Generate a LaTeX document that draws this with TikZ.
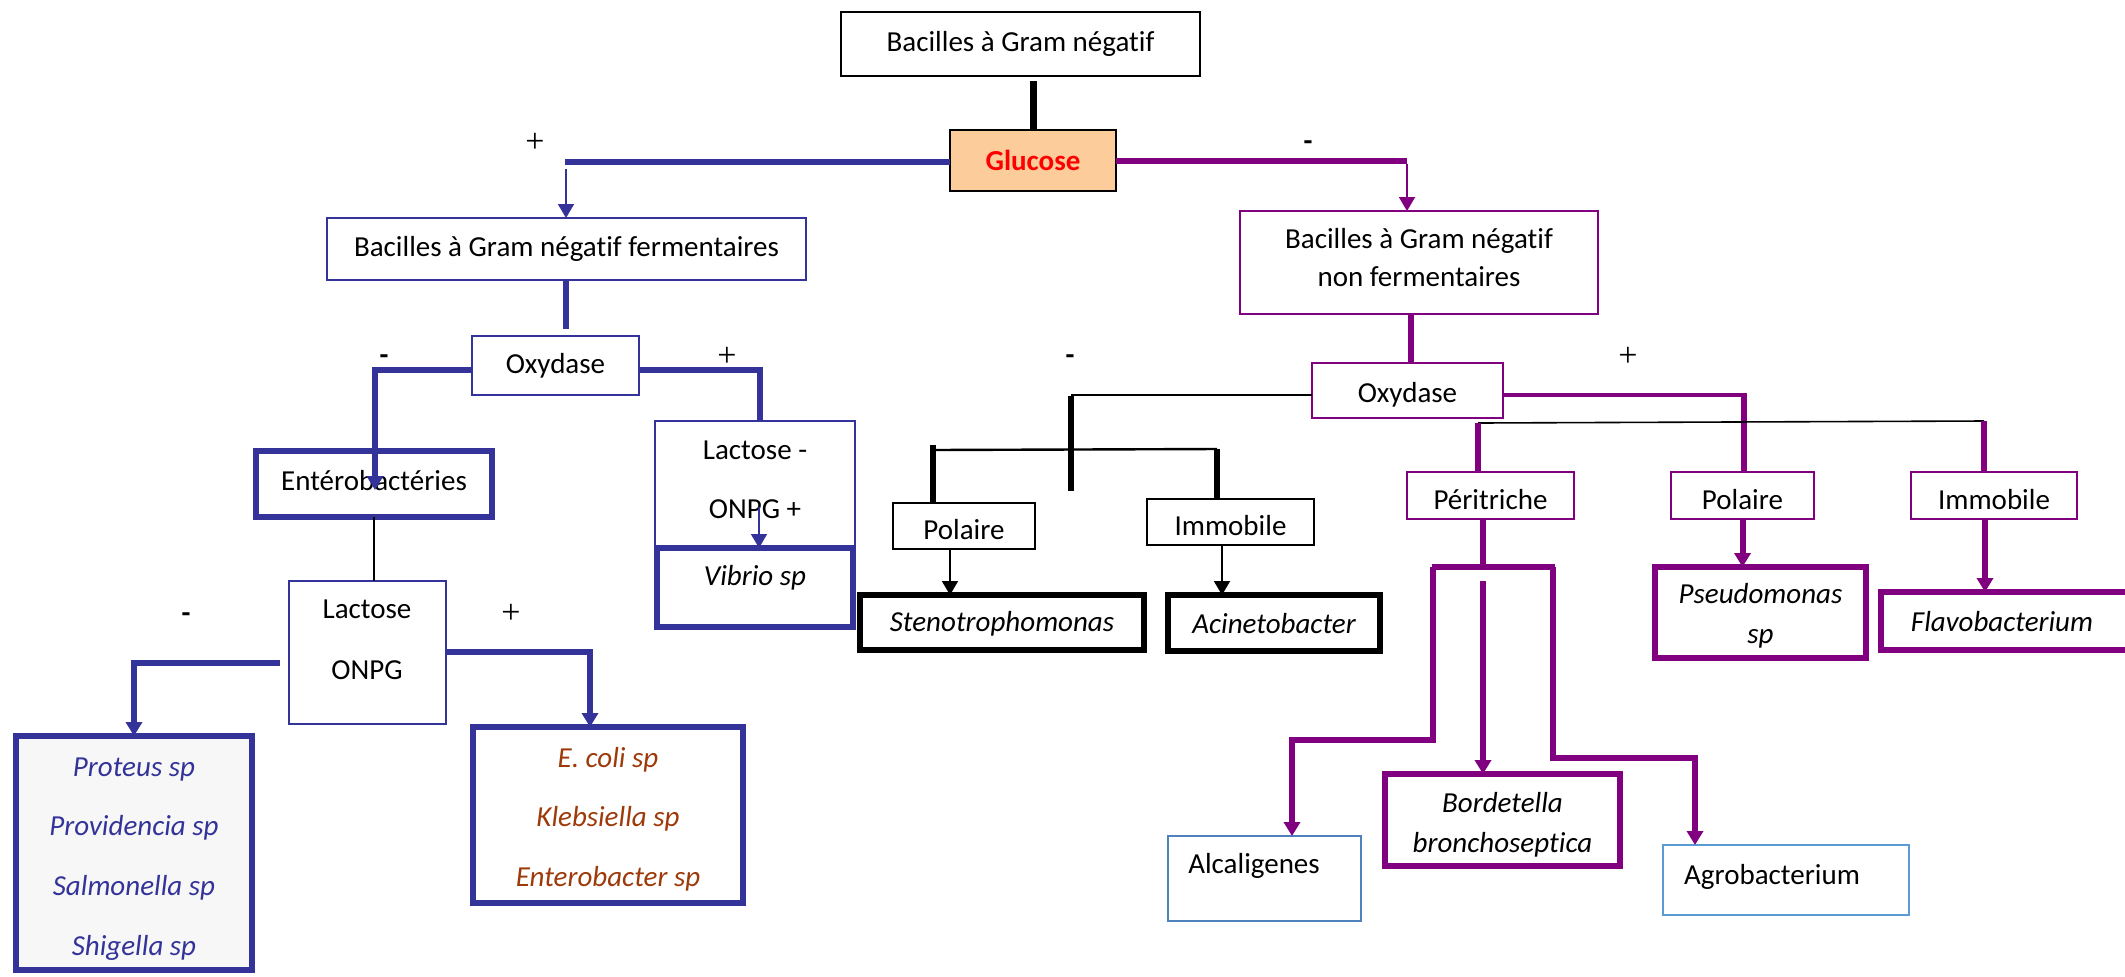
\documentclass[tikz,border=0pt]{standalone}
\usepackage{fontspec}
\setmainfont{Carlito}[Ligatures=NoCommon]
\newfontfamily\plusfont{Liberation Serif}
\usetikzlibrary{arrows.meta}

\definecolor{gblue}{RGB}{51,51,153}
\definecolor{gpurple}{RGB}{128,0,128}
\definecolor{peach}{RGB}{252,204,154}
\definecolor{rust}{RGB}{158,58,10}
\definecolor{skyA}{RGB}{79,129,189}
\definecolor{skyB}{RGB}{91,155,213}
\definecolor{paleg}{RGB}{247,247,247}

% box from corner (x1,y1) to corner (x2,y2), in pixel units
\newcommand\flowbox[7]{%
  \node[#2, minimum width={(#5-#3)*0.5pt}, minimum height={(#6-#4)*0.5pt}]
    (#1) at ({(#3+#5)/2},{(#4+#6)/2}) {#7};}

\begin{document}
\begin{tikzpicture}[x=0.5pt,y=-0.5pt,
  every node/.style={font=\fontsize{14.5}{17}\selectfont, inner sep=0pt, outer sep=0pt, align=center},
  box/.style={draw, line width=1pt},
  heavy/.style={draw, line width=3pt},
  sink/.style={text height=#1, text depth=0pt},
  link/.style={line width=3pt},
  tip/.style={-{Triangle[width=8pt,length=7pt]}},
  thinlink/.style={line width=0.9pt},
  it/.style={font=\fontsize{14.5}{#1}\selectfont\itshape},
  it/.default=17,
  plus/.style={font=\fontsize{17}{20}\selectfont\plusfont},
  minus/.style={font=\fontsize{14.5}{17}\selectfont\bfseries}]

\useasboundingbox (0,0) rectangle (2125,976);

% ---------- root ----------
\flowbox{top}{box, line width=1.2pt}{841}{12}{1200}{76}{Bacilles à Gram négatif}
\flowbox{glucose}{box, fill=peach, text=red, font=\fontsize{14.5}{17}\selectfont\bfseries}{950}{130}{1116}{191}{Glucose}

% ---------- fermenting branch ----------
\flowbox{ferm}{box, draw=gblue}{327}{218}{806}{280}{Bacilles à Gram négatif fermentaires}
\flowbox{oxL}{box, draw=gblue}{472}{336}{639}{395}{Oxydase}
\flowbox{ent}{heavy, draw=gblue, sink=6.4pt}{256}{451}{492}{517}{Entérobactéries}
\flowbox{lacO}{box, draw=gblue}{289}{581}{446}{724}{}
\node[font=\fontsize{14.5}{30.5}\selectfont] (lacOT) at (367,640) {Lactose\\ONPG};
\flowbox{lacm}{box, draw=gblue}{655}{421}{855}{547}{}
\node[font=\fontsize{14.5}{29.5}\selectfont] (lacmT) at (755,480) {Lactose -\\ONPG +};
\flowbox{vibrio}{heavy, draw=gblue}{657}{548}{853}{627}{}
\node[it] (vibT) at (755,578) {Vibrio sp};
\flowbox{proteus}{heavy, draw=gblue, fill=paleg}{16}{736}{252}{970}{}
\node[text=gblue, it=29.85] (proteusT) at (134,859) {Proteus sp\\Providencia sp\\Salmonella sp\\Shigella sp};
\flowbox{ecoli}{heavy, draw=gblue}{473}{727}{743}{903}{}
\node[text=rust, it=29.75] (ecoliT) at (608,819) {E. coli sp\\Klebsiella sp\\Enterobacter sp};

% ---------- non-fermenting branch ----------
\flowbox{nonferm}{box, draw=gpurple}{1240}{211}{1598}{314}{}
\node[font=\fontsize{14.5}{19}\selectfont] (nonfermT) at (1419,257.5) {Bacilles à Gram négatif\\non fermentaires};
\flowbox{oxR}{box, draw=gpurple, sink=11.6pt}{1312}{363}{1503}{418}{Oxydase}
\flowbox{polB}{box, sink=13pt}{893}{503}{1035}{549}{Polaire}
\flowbox{immB}{box, sink=13.6pt}{1147}{499}{1314}{545}{Immobile}
\flowbox{steno}{heavy, it, sink=9.3pt}{860}{595}{1144}{650}{Stenotrophomonas}
\flowbox{acin}{heavy, it, sink=10pt}{1168}{595}{1380}{651}{Acinetobacter}
\flowbox{perit}{box, draw=gpurple, sink=13.8pt}{1407}{472}{1574}{519}{Péritriche}
\flowbox{polP}{box, draw=gpurple, sink=14pt}{1671}{472}{1814}{519}{Polaire}
\flowbox{immP}{box, draw=gpurple, sink=14pt}{1911}{472}{2077}{519}{Immobile}
\flowbox{pseudo}{heavy, draw=gpurple}{1655}{567}{1866}{658}{}
\node[it=20] (pseudoT) at (1760.5,615.5) {Pseudomonas\\sp};
\flowbox{flavo}{heavy, draw=gpurple}{1881}{592}{2140}{650}{}
\node[it] (flavoT) at (2002,622) {Flavobacterium};
\flowbox{alcal}{box, draw=skyA}{1168}{836}{1361}{921}{}
\node (alcalT) at (1254,866) {Alcaligenes};
\flowbox{bordet}{heavy, draw=gpurple}{1385}{774}{1620}{866}{}
\node[it=20] (bordetT) at (1502.5,825) {Bordetella\\bronchoseptica};
\flowbox{agro}{box, draw=skyB}{1663}{845}{1909}{915}{}
\node (agroT) at (1772,877) {Agrobacterium};

% ---------- signs ----------
\node[plus]  (sgA) at (535,143) {+};
\node[minus] (sgB) at (1308,146) {-};
\node[minus] (sgC) at (384,360) {-};
\node[plus]  (sgD) at (727,357) {+};
\node[minus] (sgE) at (186,618) {-};
\node[plus]  (sgF) at (511,614) {+};
\node[minus] (sgG) at (1070,360) {-};
\node[plus]  (sgH) at (1628,357) {+};

% ---------- root connectors ----------
\coordinate (topdrop) at (1033,81);
\draw[line width=3.5pt] (topdrop) -- (glucose.north);

\coordinate (gL) at (565,162);
\coordinate (gLdrop) at (566,169);
\draw[gblue, line width=3.2pt] (glucose.west |- gL) -- (gL);
\draw[gblue, thinlink, tip] (gLdrop) -- (gLdrop |- ferm.north);

\coordinate (gR) at (1407,161);
\coordinate (gRdrop) at (1407,164);
\draw[gpurple, link] (glucose.east |- gR) -- (gR);
\draw[gpurple, thinlink, tip] (gRdrop) -- (gRdrop |- nonferm.north);

% ---------- fermenting connectors ----------
\coordinate (fermEnd) at (566,329);
\draw[gblue, link] (fermEnd |- ferm.south) -- (fermEnd);

\coordinate (oxLl) at (375,370);
\coordinate (entTip) at (375,490);
\draw[gblue, link, tip] (oxL.west |- oxLl) -- (oxLl) -- (entTip);

\coordinate (oxLr) at (760,370);
\draw[gblue, link] (oxL.east |- oxLr) -- (oxLr) -- (oxLr |- lacm.north);

\coordinate (lacmArrow) at (759,507);
\draw[gblue, thinlink, tip] (lacmArrow) -- (lacmArrow |- vibrio.north);

\draw[line width=0.8pt] (ent.south) -- (ent.south |- lacO.north);

\coordinate (lacOl) at (134,663);
\draw[gblue, link, tip] ([xshift=-4.5pt]lacO.west |- lacOl) -- (lacOl) -- (lacOl |- proteus.north);
\coordinate (lacOr) at (590,652);
\draw[gblue, link, tip] (lacO.east |- lacOr) -- (lacOr) -- (lacOr |- ecoli.north);

% ---------- non-fermenting connectors ----------
\coordinate (nfDrop) at (1411,363);
\draw[gpurple, link] (nfDrop |- nonferm.south) -- (nfDrop);

\coordinate (bk1) at (1071,395);
\coordinate (bkStub) at (1071,491);
\draw[line width=1.35pt] (oxR.west |- bk1) -- (bk1);
\draw[line width=2.7pt] ([yshift=-0.6pt]bk1) -- (bkStub);
\coordinate (bkL) at (933,450);
\coordinate (bkR) at (1217,449);
\draw[line width=1.2pt] (bkL) -- (bkR);
\draw[line width=2.6pt] ([yshift=2.5pt]bkL) -- (bkL |- polB.north);
\draw[line width=2.6pt] (bkR) -- (bkR |- immB.north);
\draw[thinlink, tip] ([xshift=-7pt]polB.south) -- ([xshift=-7pt]polB.south |- steno.north);
\draw[thinlink, tip] ([xshift=-4.25pt]immB.south) -- ([xshift=-4.25pt]immB.south |- acin.north);

\coordinate (pu1) at (1744,395);
\draw[gpurple, line width=1.6pt] (oxR.east |- pu1) -- (pu1);
\draw[gpurple, link] ([yshift=0.8pt]pu1) -- (pu1 |- polP.north);
\coordinate (pk1) at (1478,423);
\coordinate (pk2) at (1984,421);
\draw[line width=0.8pt] (pk1) -- (pk2);
\draw[gpurple, link] (pk1) -- (pk1 |- perit.north);
\draw[gpurple, link] (pk2) -- (pk2 |- immP.north);

\draw[gpurple, link, tip] (polP.south) -- (polP.south |- pseudo.north);
\draw[gpurple, link, tip] ([xshift=-4.5pt]immP.south) -- ([xshift=-4.5pt]immP.south |- flavo.north);

\coordinate (pj) at (1483,567);
\coordinate (pjl) at (1433,567);
\coordinate (pjr) at (1553,567);
\draw[gpurple, link] (pj |- perit.south) -- (pj);
\draw[gpurple, link] ([xshift=-0.75pt]pjl) -- ([xshift=0.75pt]pjr);
\coordinate (al1) at (1433,740);
\coordinate (al2) at (1292,740);
\draw[gpurple, link, tip] (pjl) -- (al1) -- (al2) -- (al2 |- alcal.north);
\coordinate (bo1) at (1483,581);
\draw[gpurple, link, tip] (bo1) -- (bo1 |- bordet.north);
\coordinate (ag1) at (1553,758);
\coordinate (ag2) at (1695,758);
\draw[gpurple, link, tip] (pjr) -- (ag1) -- (ag2) -- (ag2 |- agro.north);

\end{tikzpicture}
\end{document}
